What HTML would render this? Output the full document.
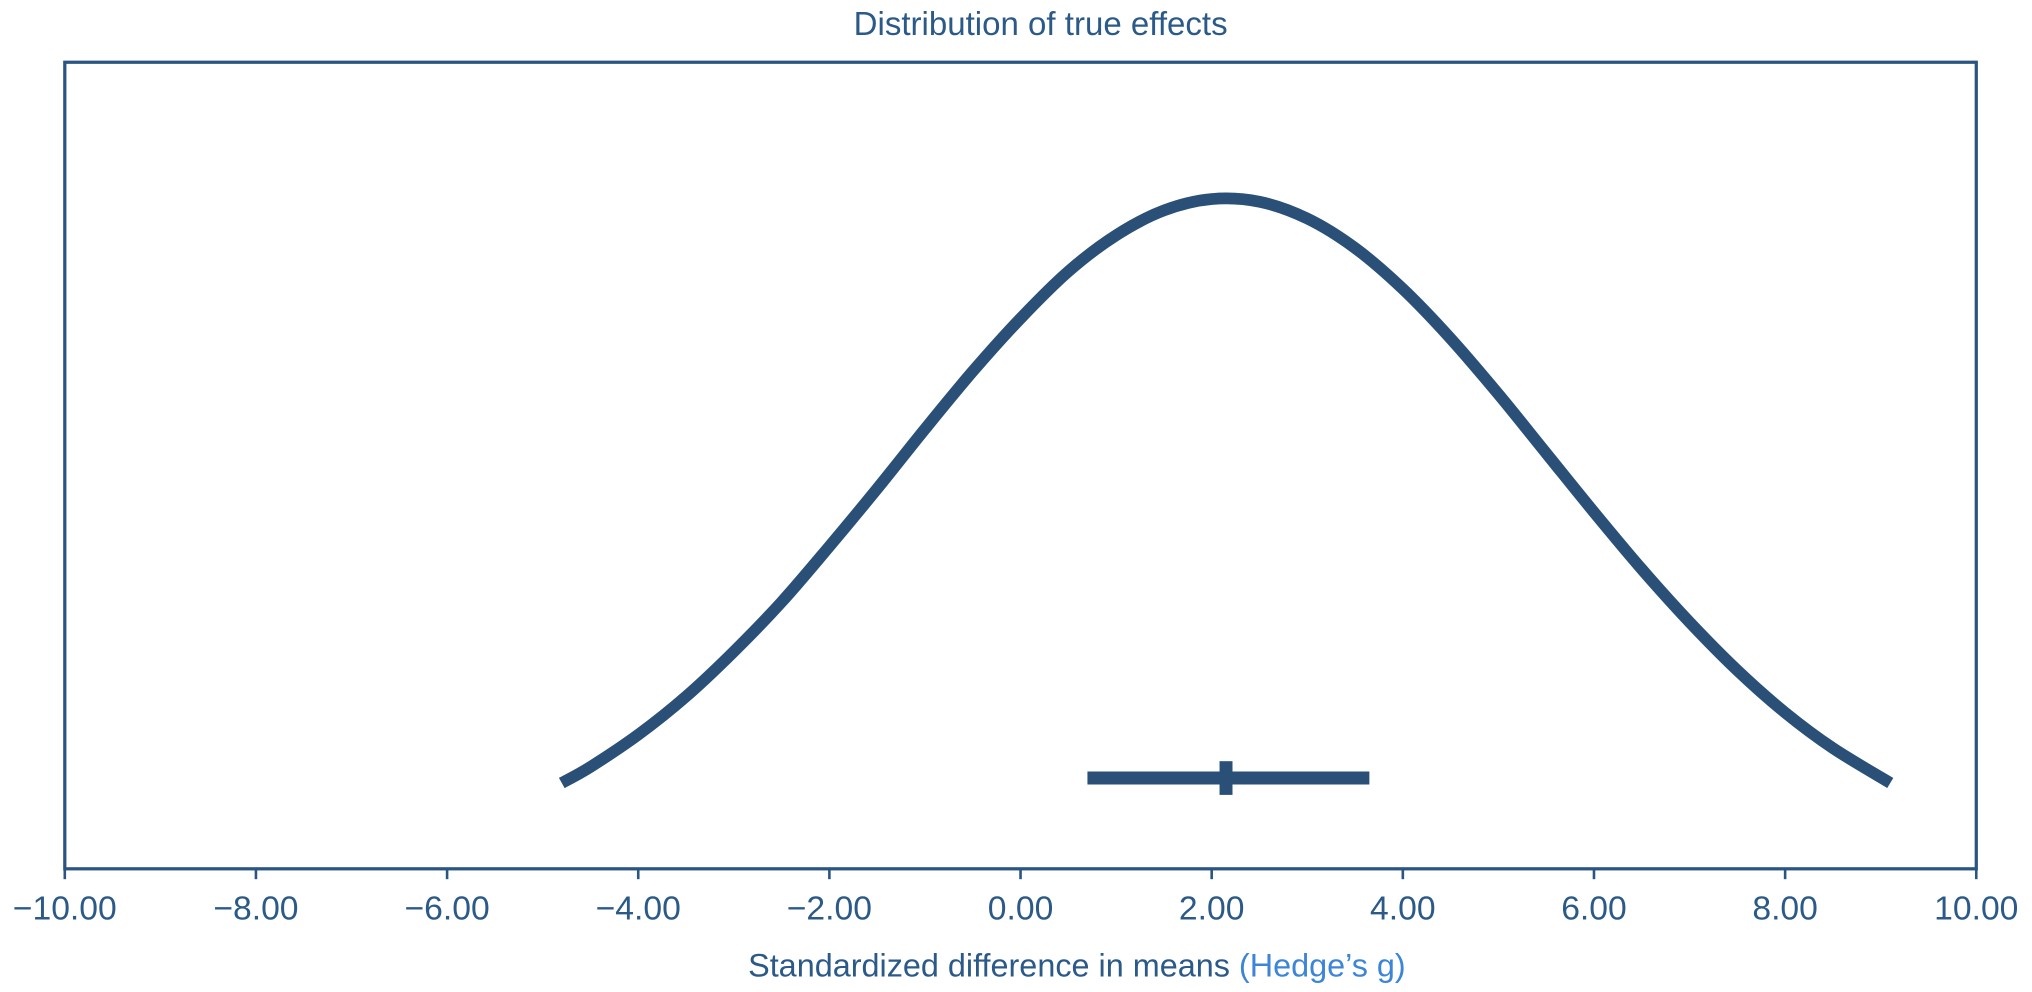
<!DOCTYPE html>
<html><head><meta charset="utf-8"><style>
body{margin:0;background:#fff;}
svg{display:block;font-family:"Liberation Sans",Arial,sans-serif;}
</style></head><body>
<svg id="chart" width="2032" height="992" viewBox="0 0 1568 765" preserveAspectRatio="none">
<text x="803" y="27" text-anchor="middle" font-size="25.5" fill="#2c5a88">Distribution of true effects</text>
<rect x="50" y="48" width="1475" height="622" fill="none" stroke="#2a5582" stroke-width="2.5"/>
<g id="ticks"></g>
<text x="831" y="753" text-anchor="middle" font-size="25" fill="#2c5a88">Standardized difference in means <tspan fill="#3d85d6">(Hedge’s g)</tspan></text>
<path id="curve" fill="none" stroke="#2a5078" stroke-width="9" stroke-linejoin="round"/>
<g id="ci"></g>
</svg>
<script>
const tickValues=[-10,-8,-6,-4,-2,0,2,4,6,8,10];
const tickLabels=["−10.00","−8.00","−6.00","−4.00","−2.00","0.00","2.00","4.00","6.00","8.00","10.00"];
const curveX=[-4.8,-4.5,-4,-3.5,-3,-2.5,-2,-1.5,-1,-0.5,0,0.5,1,1.5,2,2.5,3,3.5,4,4.5,5,5.5,6,6.5,7,7.5,8,8.5,9.1];
const curveY=[0.128,0.152,0.200,0.257,0.324,0.398,0.481,0.567,0.656,0.742,0.821,0.891,0.945,0.982,0.999,0.995,0.970,0.926,0.865,0.791,0.708,0.620,0.532,0.447,0.368,0.296,0.233,0.180,0.128];
const ciLow=[0.7];
const ciHigh=[3.65];
const ciMean=[2.15];

const NS="http://www.w3.org/2000/svg";
const xs=v=>787.5+v*73.75;
const ys=v=>670-v*517;
const tg=document.getElementById('ticks');
tickValues.forEach((v,i)=>{
  const l=document.createElementNS(NS,'line');
  l.setAttribute('x1',xs(v));l.setAttribute('x2',xs(v));l.setAttribute('y1',670);l.setAttribute('y2',678);
  l.setAttribute('stroke','#2a5582');l.setAttribute('stroke-width','2');
  
  
  tg.appendChild(l);
  const t=document.createElementNS(NS,'text');
  t.setAttribute('x',xs(v));t.setAttribute('y',709);t.setAttribute('text-anchor','middle');
  t.setAttribute('font-size','26');t.setAttribute('fill','#2c5a88');
  t.textContent=tickLabels[i];
  
  
  tg.appendChild(t);
});
const P=curveX.map((x,i)=>[xs(x),ys(curveY[i])]);
let d='M'+P[0][0]+','+P[0][1];
for(let i=0;i<P.length-1;i++){
  const p0=P[Math.max(i-1,0)],p1=P[i],p2=P[i+1],p3=P[Math.min(i+2,P.length-1)];
  const c1=[p1[0]+(p2[0]-p0[0])/6,p1[1]+(p2[1]-p0[1])/6];
  const c2=[p2[0]-(p3[0]-p1[0])/6,p2[1]-(p3[1]-p1[1])/6];
  d+=`C${c1[0]},${c1[1]} ${c2[0]},${c2[1]} ${p2[0]},${p2[1]}`;
}
document.getElementById('curve').setAttribute('d',d);
const cg=document.getElementById('ci');
ciLow.forEach((lo,i)=>{
  const b=document.createElementNS(NS,'line');
  b.setAttribute('x1',xs(lo));b.setAttribute('x2',xs(ciHigh[i]));b.setAttribute('y1',600);b.setAttribute('y2',600);
  b.setAttribute('stroke','#2a5078');b.setAttribute('stroke-width','10');
  
  
  cg.appendChild(b);
  const m=document.createElementNS(NS,'rect');
  m.setAttribute('x',xs(ciMean[i])-5);m.setAttribute('y',587);m.setAttribute('width',10);m.setAttribute('height',26);
  m.setAttribute('fill','#2a5078');
  
  
  cg.appendChild(m);
});
</script>
</body></html>
